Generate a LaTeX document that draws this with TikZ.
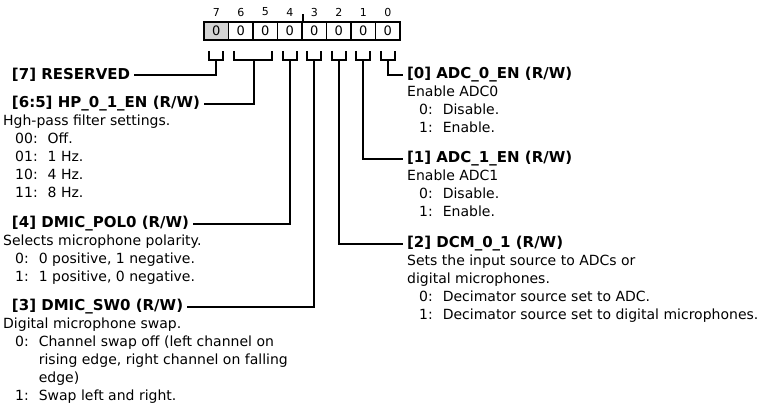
\documentclass[tikz,border=0pt]{standalone}
\usepackage{fontspec}
\setmainfont{DejaVu Sans}
\usetikzlibrary{positioning,calc}

\newcommand{\opt}[2]{\hspace*{12pt}#1\hspace{10pt}#2}
\newcommand{\cont}[1]{\hspace*{12pt}\phantom{0:}\hspace{10pt}#1}

\begin{document}
\begin{tikzpicture}[x=1pt,y=-1pt,
  cell/.style={draw,line width=1.6pt,minimum width=24.5pt,minimum height=18pt,inner sep=0pt,font=\fontsize{13}{13}\selectfont},
  bitnum/.style={inner sep=0pt,font=\fontsize{11}{11}\selectfont},
  hdr/.style={inner sep=0pt,outer sep=4pt,font=\fontsize{15}{18}\selectfont\bfseries},
  body/.style={inner sep=0pt,anchor=north west,align=left,font=\fontsize{14}{18}\selectfont},
  wire/.style={line width=1.8pt}]

\useasboundingbox (0,0) rectangle (768,420);

% register cells
\foreach \b/\c [count=\j from 0] in {7/black!17,6/white,5/white,4/white,3/white,2/white,1/white,0/white} {
  \node[cell,fill=\c] (b\b) at ({216.25+24.5*\j},31) {0};
  \node[bitnum] (n\b) at ({216.25+24.5*\j},12) {\b};
}
\draw[line width=1.4pt] (b4.north east) -- ++(0,-7);

% brackets
\foreach \b in {7,4,3,2,1,0} {
  \coordinate (k\b) at ($(b\b.south)+(0,19)$);
  \draw[wire] ($(b\b.south west)+(6,10)$) |- ($(b\b.south east)+(-6,19)$) -- ++(0,-9);
}
\coordinate (k65) at ($(b6.south east)+(0,19)$);
\draw[wire] ($(b6.south west)+(6,10)$) |- ($(b5.south east)+(-6,19)$) -- ++(0,-9);

% left fields
\node[hdr,anchor=west] (f7) at (8,75) {[7] RESERVED};

\node[hdr,anchor=west] (f65) at (8,104) {[6:5] HP\_0\_1\_EN (R/W)};
\node[body] (d65) at (3,115) {Hgh-pass filter settings.\\
  \opt{00:}{Off.}\\
  \opt{01:}{1 Hz.}\\
  \opt{10:}{4 Hz.}\\
  \opt{11:}{8 Hz.}};

\node[hdr,anchor=west] (f4) at (8,224) {[4] DMIC\_POL0 (R/W)};
\node[body] (d4) at (3,235) {Selects microphone polarity.\\
  \opt{0:}{0 positive, 1 negative.}\\
  \opt{1:}{1 positive, 0 negative.}};

\node[hdr,anchor=west] (f3) at (8,307) {[3] DMIC\_SW0 (R/W)};
\node[body] (d3) at (3,318) {Digital microphone swap.\\
  \opt{0:}{Channel swap off (left channel on}\\
  \cont{rising edge, right channel on falling}\\
  \cont{edge)}\\
  \opt{1:}{Swap left and right.}};

% right fields
\node[hdr,anchor=west] (f0) at (403,75) {[0] ADC\_0\_EN (R/W)};
\node[body] (d0) at (407,86) {Enable ADC0\\
  \opt{0:}{Disable.}\\
  \opt{1:}{Enable.}};

\node[hdr,anchor=west] (f1) at (403,159) {[1] ADC\_1\_EN (R/W)};
\node[body] (d1) at (407,170) {Enable ADC1\\
  \opt{0:}{Disable.}\\
  \opt{1:}{Enable.}};

\node[hdr,anchor=west] (f2) at (403,244) {[2] DCM\_0\_1 (R/W)};
\node[body] (d2) at (407,255) {Sets the input source to ADCs or\\
  digital microphones.\\
  \opt{0:}{Decimator source set to ADC.}\\
  \opt{1:}{Decimator source set to digital microphones.}};

% connectors
\draw[wire] (k7) |- (f7.east);
\draw[wire] (k65) |- (f65.east);
\draw[wire] (k4) |- (f4.east);
\draw[wire] (k3) |- (f3.east);
\draw[wire] (k0) |- (f0.west);
\draw[wire] (k1) |- (f1.west);
\draw[wire] (k2) |- (f2.west);
\end{tikzpicture}
\end{document}
